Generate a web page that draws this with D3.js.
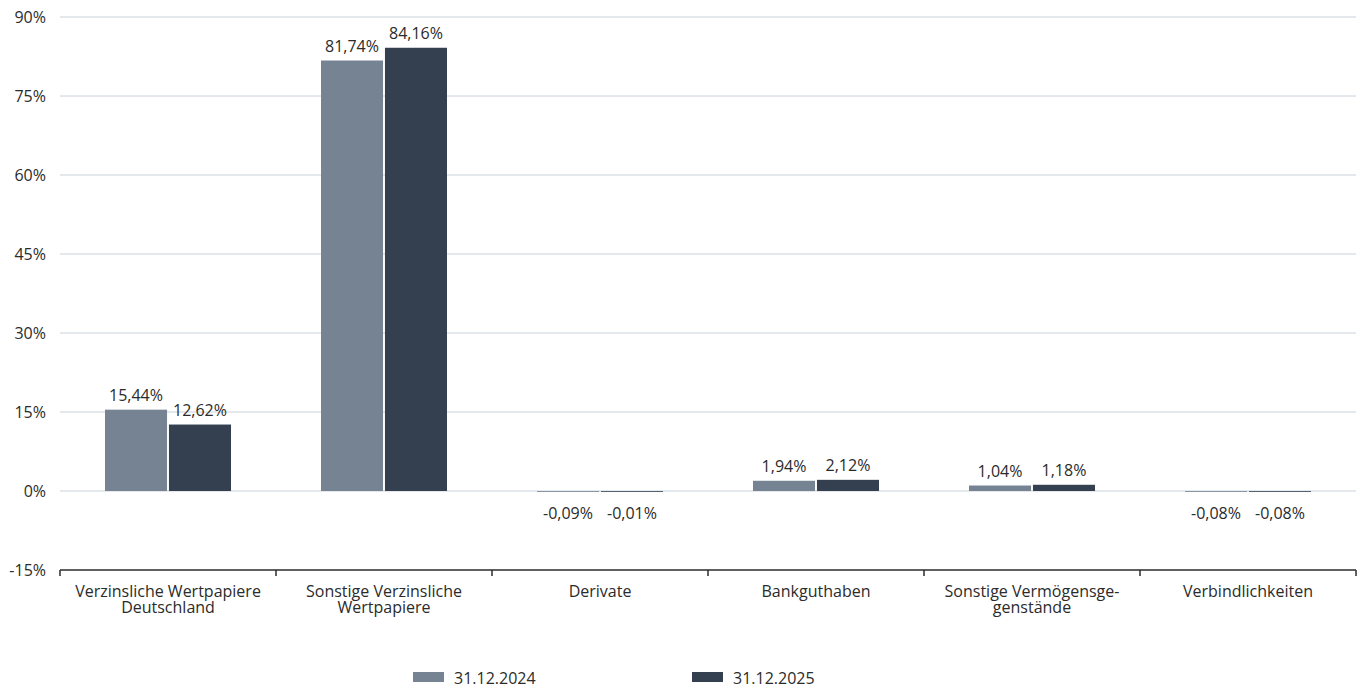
<!DOCTYPE html>
<html><head><meta charset="utf-8">
<script src="https://cdn.jsdelivr.net/npm/d3@7"></script>
<style>body{margin:0;background:#fff;}svg text{font-family:"Open Sans","Noto Sans",sans-serif;fill:#2b2b2b;}</style>
</head><body><svg id="c" width="1362" height="691"></svg>
<script>
const categories = [["Verzinsliche Wertpapiere","Deutschland"],["Sonstige Verzinsliche","Wertpapiere"],["Derivate"],["Bankguthaben"],["Sonstige Vermögensge-","genstände"],["Verbindlichkeiten"]];
const seriesNames = ["31.12.2024","31.12.2025"];
const values2024 = [15.44, 81.74, -0.09, 1.94, 1.04, -0.08];
const values2025 = [12.62, 84.16, -0.01, 2.12, 1.18, -0.08];
const yTicks = [-15, 0, 15, 30, 45, 60, 75, 90];
const colors = ["#768392", "#344050"];

const svg = d3.select("#c");
const L = 60, R = 1356, T = 17, B = 570;
const x0 = d3.scaleBand().domain(d3.range(categories.length)).range([L, R]).paddingInner(0).paddingOuter(0);
const y = d3.scaleLinear().domain([-15, 90]).range([B, T]);
const groupW = 126;
const x1 = d3.scaleBand().domain([0,1]).range([(x0.bandwidth()-groupW)/2, (x0.bandwidth()+groupW)/2]).paddingInner(0.03);

// gridlines
svg.append("g").selectAll("line").data(yTicks.filter(d => d > -15)).join("line")
  .attr("x1", L).attr("x2", R).attr("y1", d => y(d)).attr("y2", d => y(d))
  .attr("stroke", "#c9d2da").attr("stroke-width", 1);

// y labels
svg.append("g").selectAll("text").data(yTicks).join("text")
  .attr("x", 46).attr("y", d => y(d)).attr("dy", "0.35em").attr("text-anchor", "end")
  .attr("font-size", 16).text(d => d + "%");

const fmt = v => d3.format(".2f")(v).replace("−", "-").replace(".", ",") + "%";
const series = [values2024, values2025];

const g = svg.append("g");
series.forEach((vals, si) => {
  g.selectAll(null).data(vals).join("rect")
    .attr("x", (d, i) => x0(i) + x1(si)).attr("width", x1.bandwidth())
    .attr("y", d => y(Math.max(0, d))).attr("height", d => Math.max(0.8, Math.abs(y(d) - y(0))))
    .attr("fill", colors[si]);
  g.selectAll(null).data(vals).join("text")
    .attr("x", (d, i) => x0(i) + x1(si) + x1.bandwidth()/2)
    .attr("y", d => d >= 0 ? y(d) - 9 : y(0) + 28)
    .attr("text-anchor", "middle").attr("font-size", 16).text(d => fmt(d));
});

// x axis
const ax = svg.append("g").attr("transform", `translate(0,${B})`);
ax.append("line").attr("x1", L).attr("x2", R).attr("stroke", "#2b2b2b").attr("stroke-width", 1.5);
ax.selectAll("line.t").data(d3.range(categories.length + 1)).join("line").attr("class","t")
  .attr("x1", i => L + i * x0.step()).attr("x2", i => L + i * x0.step())
  .attr("y1", 0).attr("y2", 6).attr("stroke", "#2b2b2b").attr("stroke-width", 1.5);
categories.forEach((lines, i) => {
  const t = ax.append("text").attr("text-anchor", "middle").attr("font-size", 16)
    .attr("x", x0(i) + x0.bandwidth()/2).attr("y", 27);
  lines.forEach((ln, k) => t.append("tspan").attr("x", x0(i) + x0.bandwidth()/2).attr("dy", k ? 16 : 0).text(ln));
});

// legend
const legX = [413, 692];
seriesNames.forEach((n, i) => {
  svg.append("rect").attr("x", legX[i]).attr("y", 672).attr("width", 31).attr("height", 10).attr("fill", colors[i]);
  svg.append("text").attr("x", legX[i] + 41).attr("y", 684).attr("font-size", 16).text(n);
});
</script></body></html>
